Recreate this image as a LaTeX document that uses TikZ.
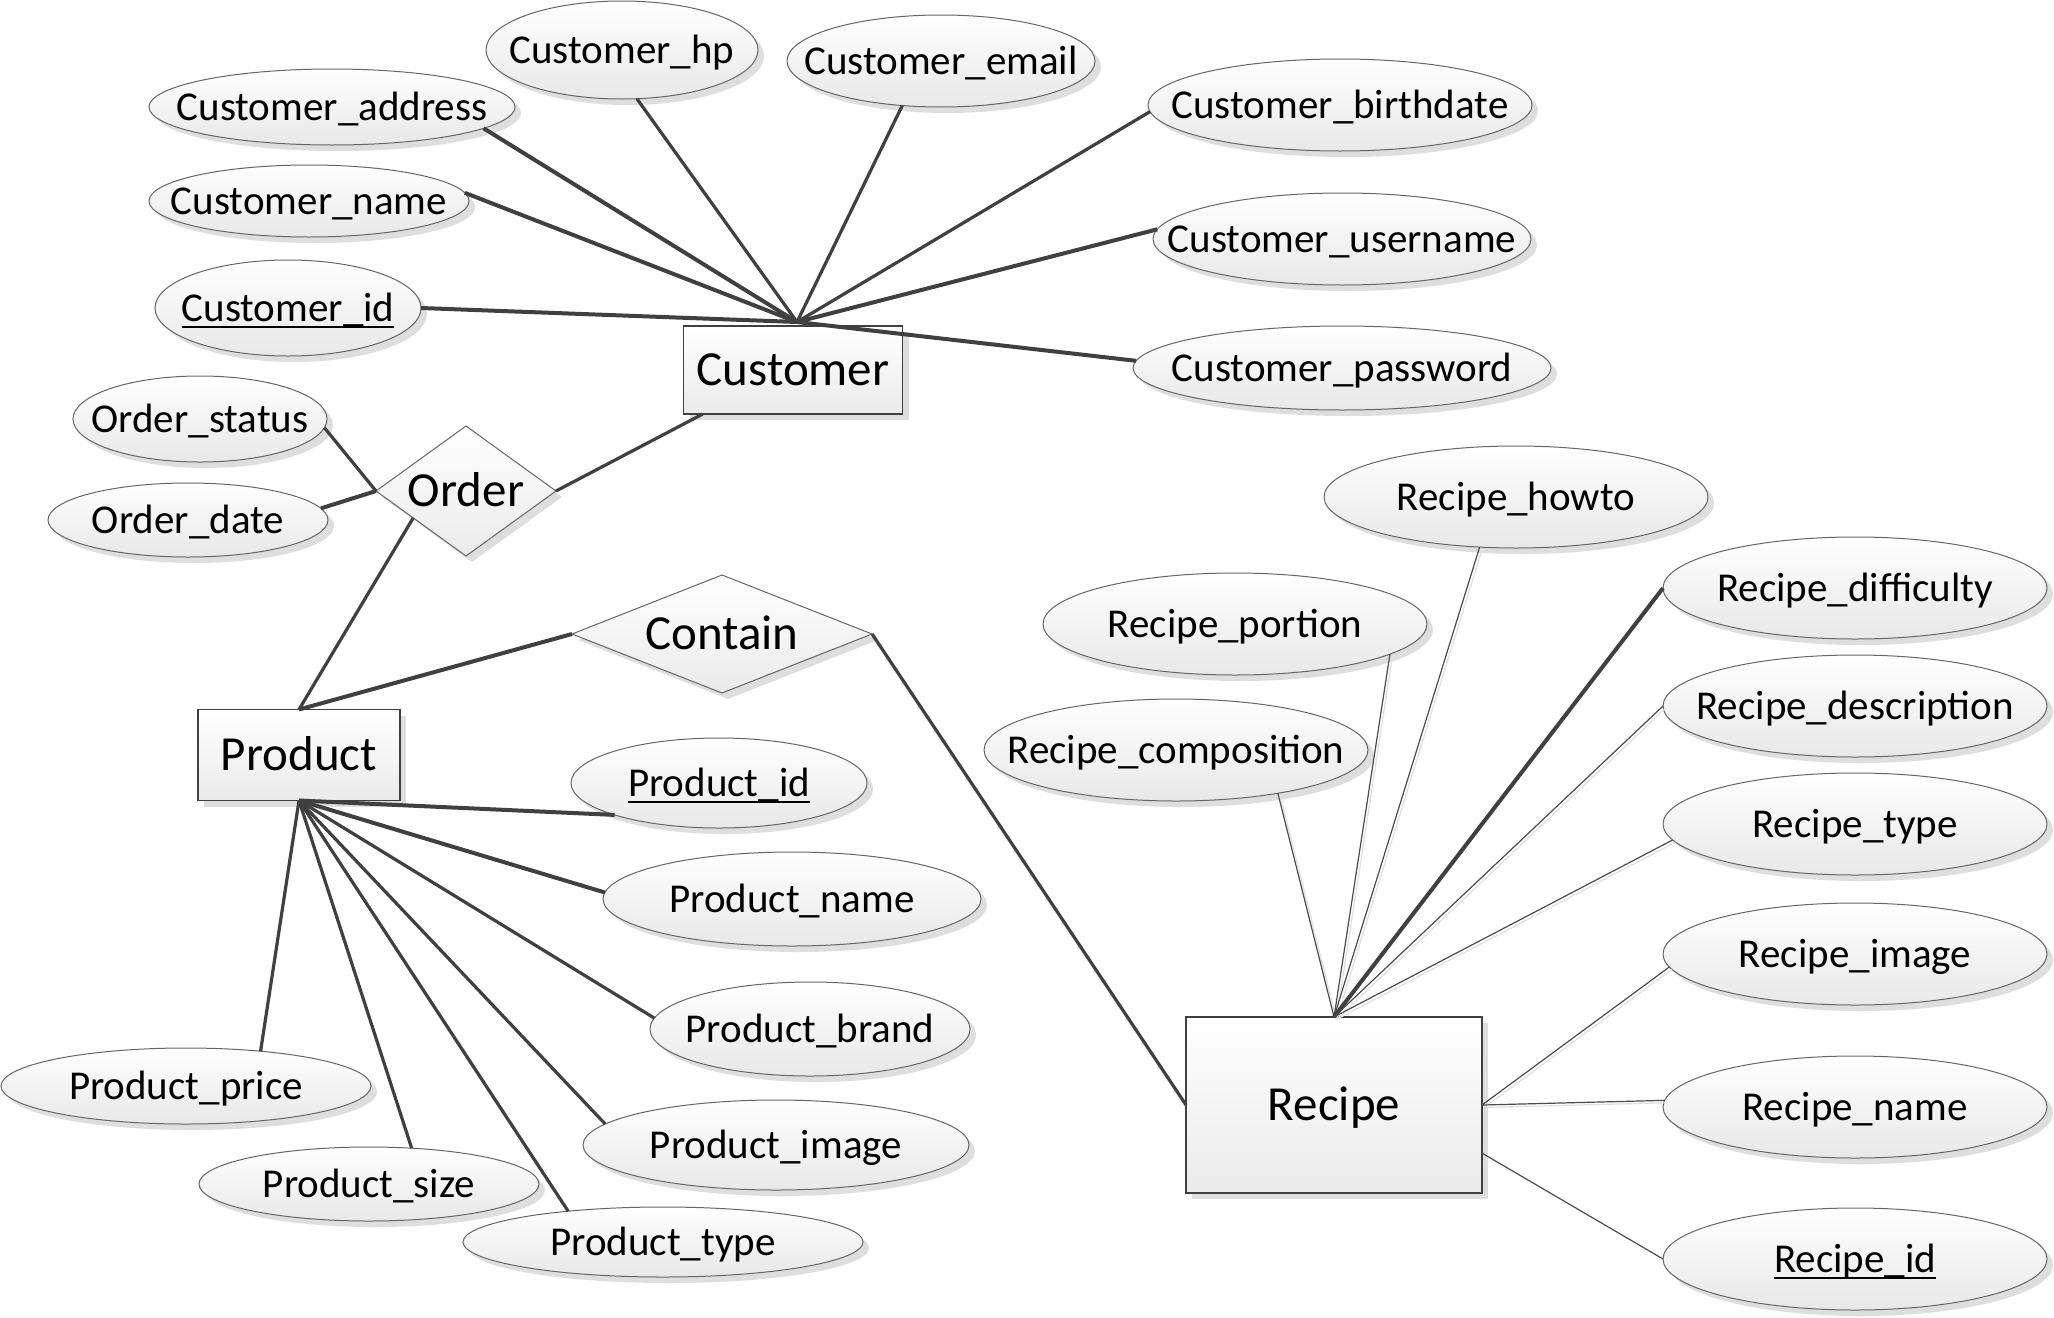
\documentclass[tikz,border=0pt]{standalone}
\usepackage{fontspec}
\setmainfont{Carlito}
\usetikzlibrary{shapes.geometric,shadows}
\newcommand\myul[1]{\setbox0\hbox{#1}\rlap{\rule[-0.17em]{\wd0}{0.06em}}\box0}
\tikzset{
  shd/.style={drop shadow={shadow xshift=3pt,shadow yshift=-3pt,fill=black!13,opacity=1}},
  attr/.style={ellipse, draw=black!60, line width=0.5pt, top color=white, bottom color=black!9,
    inner sep=0pt, outer sep=0pt, shd, font=\fontsize{20.5}{24}\selectfont,
    text height=13.2pt, text depth=0pt},
  entity/.style={rectangle, draw=black!75, line width=0.7pt, top color=white, bottom color=black!8,
    inner sep=0pt, outer sep=0pt, shd, font=\fontsize{24.5}{29}\selectfont,
    text height=15.8pt, text depth=0pt},
  rel/.style={diamond, draw=black!60, line width=0.5pt, top color=white, bottom color=black!8,
    inner sep=0pt, outer sep=0pt, shd, font=\fontsize{24.5}{29}\selectfont,
    text height=15.8pt, text depth=0pt},
  thk/.style={draw=black!75, line width=2pt},
  mid/.style={draw=black!75, line width=1.6pt},
  thn/.style={draw=black!70, line width=0.6pt},
}
\begin{document}
\begin{tikzpicture}[x=0.5pt,y=-0.5pt]
\fill[white] (0,0) rectangle (2054,1317);
% Customer
\node[entity, minimum width=109.5pt, minimum height=44pt] (cust) at (793,370) {Customer};
\coordinate (cj) at (797,322);
\node[attr, minimum width=183pt, minimum height=38pt] (caddr) at (332,107) {\makebox[0pt]{Customer\_address}};
\node[attr, minimum width=136pt, minimum height=49pt] (chp) at (622,50) {\makebox[0pt]{Customer\_hp}};
\node[attr, minimum width=154pt, minimum height=46pt] (cemail) at (941,61) {\makebox[0pt]{Customer\_email}};
\node[attr, minimum width=160pt, minimum height=36pt] (cname) at (309,201) {\makebox[0pt]{Customer\_name}};
\node[attr, minimum width=133pt, minimum height=48pt] (cid) at (288,308) {\makebox[0pt]{\myul{Customer\_id}}};
\node[attr, minimum width=192pt, minimum height=46pt] (cbirth) at (1340,105) {\makebox[0pt]{Customer\_birthdate}};
\node[attr, minimum width=189pt, minimum height=46pt] (cuser) at (1342,239) {\makebox[0pt]{Customer\_username}};
\node[attr, minimum width=209pt, minimum height=42pt] (cpass) at (1342,368) {\makebox[0pt]{Customer\_password}};
% Order
\node[rel, minimum width=90pt, minimum height=65pt] (order) at (466,491) {\makebox[0pt]{Order}};
\node[attr, minimum width=127pt, minimum height=43pt] (ostatus) at (200,419) {\makebox[0pt]{Order\_status}};
\node[attr, minimum width=140pt, minimum height=37pt] (odate) at (188,520) {\makebox[0pt]{Order\_date}};
% Product
\node[entity, minimum width=101pt, minimum height=45.5pt] (prod) at (299,755) {Product};
\node[rel, minimum width=150pt, minimum height=59pt] (contain) at (722,634) {\makebox[0pt]{Contain}};
\node[attr, minimum width=148pt, minimum height=45pt] (pid) at (719,783) {\makebox[0pt]{\myul{Product\_id}}};
\node[attr, minimum width=189pt, minimum height=47pt] (pname) at (792,899) {\makebox[0pt]{Product\_name}};
\node[attr, minimum width=160pt, minimum height=47pt] (pbrand) at (810,1029) {\makebox[0pt]{Product\_brand}};
\node[attr, minimum width=193pt, minimum height=45pt] (pimage) at (776,1145) {\makebox[0pt]{Product\_image}};
\node[attr, minimum width=185pt, minimum height=38pt] (pprice) at (186,1086) {\makebox[0pt]{Product\_price}};
\node[attr, minimum width=170pt, minimum height=37pt] (psize) at (369,1184) {\makebox[0pt]{Product\_size}};
\node[attr, minimum width=200pt, minimum height=35pt] (ptype) at (663,1242) {\makebox[0pt]{Product\_type}};
% Recipe
\node[entity, minimum width=148pt, minimum height=88pt] (rec) at (1334,1105) {Recipe};
\node[attr, minimum width=192pt, minimum height=51pt] (rhowto) at (1516,497) {\makebox[0pt]{Recipe\_howto}};
\node[attr, minimum width=192pt, minimum height=51pt] (rportion) at (1235,624) {\makebox[0pt]{Recipe\_portion}};
\node[attr, minimum width=192pt, minimum height=51pt] (rcomp) at (1176,750) {\makebox[0pt]{Recipe\_composition}};
\node[attr, minimum width=192pt, minimum height=51pt] (rdiff) at (1855,588) {\makebox[0pt]{Recipe\_difficulty}};
\node[attr, minimum width=192pt, minimum height=51pt] (rdesc) at (1855,706) {\makebox[0pt]{Recipe\_description}};
\node[attr, minimum width=192pt, minimum height=51pt] (rtype) at (1855,824) {\makebox[0pt]{Recipe\_type}};
\node[attr, minimum width=192pt, minimum height=51pt] (rimage) at (1855,954) {\makebox[0pt]{Recipe\_image}};
\node[attr, minimum width=192pt, minimum height=51pt] (rname) at (1855,1107) {\makebox[0pt]{Recipe\_name}};
\node[attr, minimum width=192pt, minimum height=51pt] (rid) at (1855,1259) {\makebox[0pt]{\myul{Recipe\_id}}};
% Customer connectors
\draw[thk] (cj) -- (caddr.-8);
\draw[mid] (cj) -- (chp.-73);
\draw[mid] (cj) -- (cemail.-131);
\draw[mid] (cj) -- (cbirth.182);
\draw[thk] (cj) -- (cuser.177);
\draw[thk] (cj) -- (cpass.178);
\draw[thk] (cj) -- (cname.3);
\draw[thk] (cj) -- (cid.east);
% Order connectors
\draw[mid] (order.east) -- (cust.-154);
\draw[mid] (order.west) -- (ostatus.-4);
\draw[thk] (order.west) -- (odate.5);
\draw[mid] (order.-153) -- (prod.north);
% Product connectors
\draw[thk] (prod.north) -- (contain.west);
\draw[mid] (contain.east) -- (rec.west);
\draw[thk] (prod.south) -- (pid.-163);
\draw[thk] (prod.south) -- (pname.178);
\draw[mid] (prod.south) -- (pbrand.176);
\draw[mid] (prod.south) -- (pimage.173);
\draw[mid] (prod.south) -- (ptype.162);
\draw[mid] (prod.south) -- (psize.40);
\draw[mid] (prod.south) -- (pprice.25);
% Recipe connectors (light shadow lines)
\begin{scope}[transform canvas={shift={(1.2pt,-1.2pt)}}, draw=black!12, line width=0.6pt]
\draw (rec.north) -- (rcomp.-23);
\draw (rec.north) -- (rportion.-11);
\draw (rec.north) -- (rhowto.-126);
\draw (rec.north) -- (rdesc.west);
\draw (rec.north) -- (rtype.185);
\draw (rec.east) -- (rimage.184);
\draw (rec.east) -- (rname.178);
\end{scope}
\draw[thn] (rec.north) -- (rcomp.-23);
\draw[thn] (rec.north) -- (rportion.-11);
\draw[thn] (rec.north) -- (rhowto.-126);
\draw[thk] (rec.north) -- (rdiff.west);
\draw[thn] (rec.north) -- (rdesc.west);
\draw[thn] (rec.north) -- (rtype.185);
\draw[thn] (rec.east) -- (rimage.184);
\draw[thn] (rec.east) -- (rname.178);
\draw[thn] (rec.-18) -- (rid.west);
\end{tikzpicture}
\end{document}
